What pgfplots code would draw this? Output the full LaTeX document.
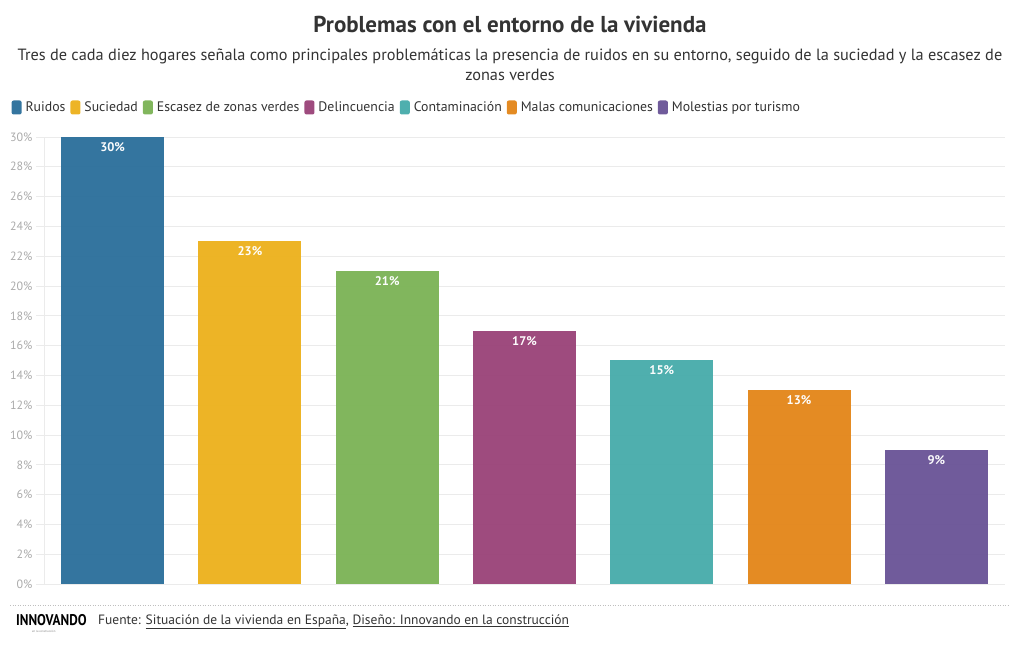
\documentclass[border=0pt]{standalone}
\usepackage{pgfplots}
\pgfplotsset{compat=1.18}
\usepackage{fontspec}
\setmainfont{PT Sans}
\definecolor{cRui}{HTML}{30729D}
\definecolor{cSuc}{HTML}{EDB322}
\definecolor{cEsc}{HTML}{7EB55A}
\definecolor{cDel}{HTML}{9C477B}
\definecolor{cCon}{HTML}{4BADAC}
\definecolor{cMal}{HTML}{E3891F}
\definecolor{cMol}{HTML}{6D5899}
\definecolor{txt}{HTML}{333333}
\definecolor{cTick}{HTML}{AAAAAA}
\definecolor{cGrid}{HTML}{EBEBEB}
\begin{document}
\begin{tikzpicture}[x=1pt,y=1pt]
\path[use as bounding box] (0,0) rectangle (1020,650);
% titles
\node[font=\fontsize{23}{27}\selectfont\bfseries, text=txt] at (510,626) {Problemas con el entorno de la vivienda};
\node[font=\fontsize{16.3}{20}\selectfont, text=txt, align=center] at (510,585) {Tres de cada diez hogares señala como principales problemáticas la presencia de ruidos en su entorno, seguido de la suciedad y la escasez de\\ zonas verdes};
\begin{axis}[
  at={(44pt,66pt)}, anchor=south west,
  scale only axis, width=961pt, height=447pt,
  xmin=-0.5, xmax=6.5, ymin=0, ymax=30,
  xtick=\empty,
  ytick={0,2,...,30},
  yticklabel={\pgfmathprintnumber{\tick}\%},
  yticklabel style={font=\fontsize{12}{14}\selectfont, text=cTick},
  /pgf/number format/assume math mode=true,
  ymajorgrids, grid style={draw=cGrid, line width=0.7pt},
  axis line style={draw=cGrid, line width=0.7pt},
  axis x line*=bottom, axis y line*=left,
  major tick length=8pt, tick style={draw=cGrid, line width=0.7pt},
  tick align=outside,
  ybar, bar width=103pt, bar shift=0pt,
  nodes near coords={\pgfmathprintnumber{\pgfplotspointmeta}\%},
  nodes near coords style={font=\fontsize{12.5}{14}\selectfont\bfseries, text=white, anchor=north, yshift=-2pt},
  every axis plot/.append style={draw=none, fill opacity=0.98},
  legend style={at={(-0.037,1.066)}, anchor=west, draw=none, fill=none,
    font=\fontsize{13.8}{16}\selectfont, text=txt, column sep=2pt,
    /tikz/every even column/.append style={column sep=3pt}},
  legend columns=-1,
  legend image code/.code={\fill[#1, rounded corners=2pt] (0pt,-7pt) rectangle (10pt,7pt);},
  clip=false,
]
\addplot[fill=cRui] coordinates {(0,30)};
\addplot[fill=cSuc] coordinates {(1,23)};
\addplot[fill=cEsc] coordinates {(2,21)};
\addplot[fill=cDel] coordinates {(3,17)};
\addplot[fill=cCon] coordinates {(4,15)};
\addplot[fill=cMal] coordinates {(5,13)};
\addplot[fill=cMol] coordinates {(6,9)};
\legend{Ruidos,Suciedad,Escasez de zonas verdes,Delincuencia,Contaminación,Malas comunicaciones,Molestias por turismo}
\end{axis}
% footer
\draw[draw=black!25, line width=0.8pt, dash pattern=on 1pt off 1.5pt] (10,45) -- (1010,45);
\node[anchor=west, font=\fontsize{15.5}{16}\selectfont\bfseries, text=black, inner sep=0pt, xscale=0.85] at (16,30) {INNOVANDO};
\node[anchor=west, font=\fontsize{3}{3}\selectfont, text=gray, inner sep=0pt] at (32,19) {en la construcción};
\node[anchor=west, font=\fontsize{13.5}{15}\selectfont, text=txt, inner sep=0pt] at (98,28) {Fuente: \underline{Situación de la vivienda en España}, \underline{Diseño: Innovando en la construcción}};
\end{tikzpicture}
\end{document}
